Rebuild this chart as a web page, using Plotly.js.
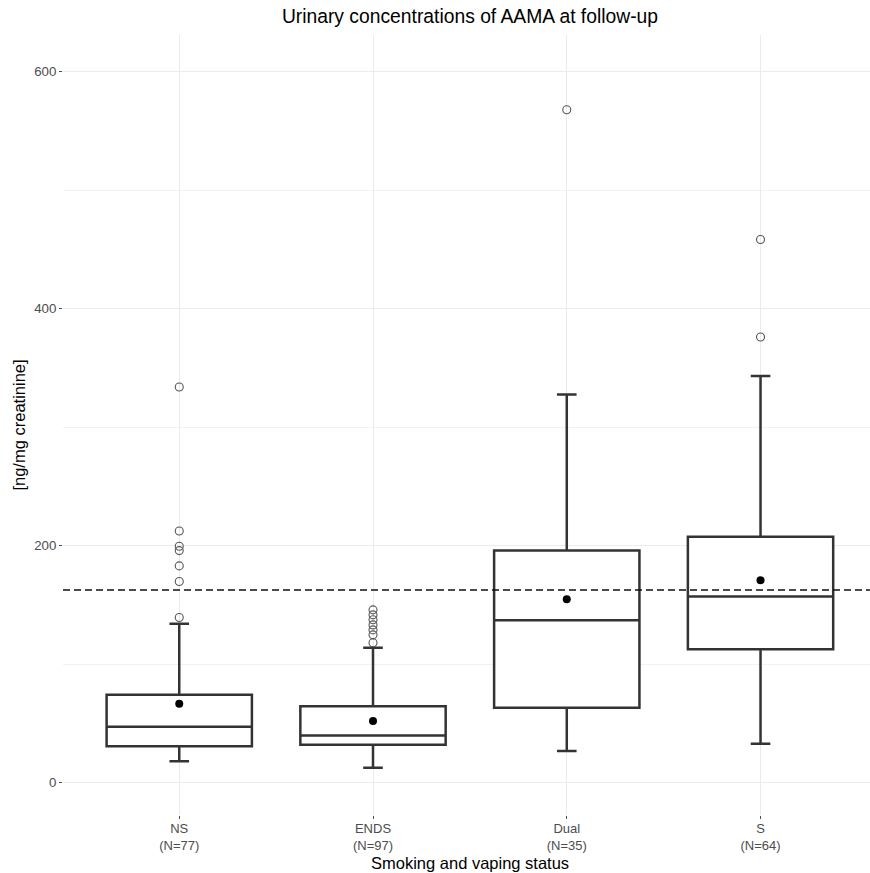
<!DOCTYPE html>
<html>
<head>
<meta charset="utf-8">
<script src="https://cdn.plot.ly/plotly-3.0.1.min.js"></script>
<style>html,body{margin:0;padding:0;background:#fff;}#chart{width:870px;height:873px;}</style>
</head>
<body>
<div id="chart"></div>
<script>
// ---- data ----
const categories = ['NS', 'ENDS', 'Dual', 'S'];
const nCounts = [77, 97, 35, 64];
const q1 = [30.6, 31.8, 63.1, 112.5];
const medians = [47.0, 39.6, 136.9, 156.9];
const q3 = [74.0, 64.4, 195.7, 207.5];
const lowerFence = [18.0, 12.4, 26.6, 32.7];
const upperFence = [133.9, 113.8, 327.5, 343.0];
const means = [66.4, 52.0, 154.6, 170.7];
const outliersNS = [333.8, 212.2, 199.4, 195.7, 182.8, 169.6, 139.2];
const outliersENDS = [145.7, 141.5, 137.3, 133.0, 128.8, 124.6, 118.0];
const outliersDual = [567.7];
const outliersS = [458.2, 375.9];
const referenceLine = 162.5;
const yTickVals = [0, 200, 400, 600];

const tickLabels = categories.map((c, i) => c + '<br>(N=' + nCounts[i] + ')');
const outlierGroups = [outliersNS, outliersENDS, outliersDual, outliersS];
const outX = [], outY = [];
outlierGroups.forEach((g, i) => g.forEach(v => { outX.push(tickLabels[i]); outY.push(v); }));

const dark = '#333333';
const font = 'Liberation Sans, Arial, sans-serif';

const traces = [
  {
    type: 'box',
    x: tickLabels,
    q1: q1, median: medians, q3: q3,
    lowerfence: lowerFence, upperfence: upperFence,
    boxpoints: false,
    width: 0.75,
    whiskerwidth: 0.135,
    fillcolor: '#ffffff',
    line: {color: dark, width: 2.5},
    hoverinfo: 'skip',
    showlegend: false
  },
  {
    type: 'scatter', mode: 'markers',
    x: outX, y: outY,
    marker: {symbol: 'circle-open', size: 8, color: '#555555', line: {width: 1.1}},
    showlegend: false, cliponaxis: false
  },
  {
    type: 'scatter', mode: 'markers',
    x: tickLabels, y: means,
    marker: {symbol: 'circle', size: 8, color: '#000000'},
    showlegend: false
  }
];

const layout = {
  width: 870, height: 873,
  margin: {l: 63, r: 0, t: 35, b: 58},
  paper_bgcolor: '#ffffff', plot_bgcolor: '#ffffff',
  font: {family: font, color: '#4d4d4d'},
  showlegend: false,
  title: {
    text: 'Urinary concentrations of AAMA at follow-up',
    font: {family: font, size: 19.3, color: '#000000'},
    xref: 'paper', x: 0.5043, xanchor: 'center',
    yref: 'container', y: 1 - 16 / 873, yanchor: 'middle'
  },
  xaxis: {
    type: 'category',
    categoryarray: tickLabels, categoryorder: 'array',
    range: [-0.6, 3.565],
    showgrid: true, gridcolor: '#ebebeb', gridwidth: 1,
    zeroline: false, showline: false,
    ticks: 'outside', ticklen: 3, tickcolor: '#4d4d4d', tickwidth: 1,
    ticklabelstandoff: -2,
    tickfont: {family: font, size: 13, color: '#4d4d4d'}
  },
  yaxis: {
    range: [-27.4, 630.8],
    tickvals: yTickVals,
    showgrid: true, gridcolor: '#ebebeb', gridwidth: 1,
    minor: {dtick: 100, tick0: 0, showgrid: true, gridcolor: '#f2f2f2', gridwidth: 1, ticks: ''},
    zeroline: false, showline: false,
    ticks: 'outside', ticklen: 3, tickcolor: '#4d4d4d', tickwidth: 1,
    tickfont: {family: font, size: 13.3, color: '#4d4d4d'},
    title: {text: '[ng/mg creatinine]', font: {family: font, size: 16.5, color: '#000000'}, standoff: 4}
  },
  annotations: [{
    text: 'Smoking and vaping status',
    xref: 'paper', x: 0.5043, xanchor: 'center',
    yref: 'paper', y: -48 / 780, yanchor: 'middle',
    showarrow: false,
    font: {family: font, size: 16.5, color: '#000000'}
  }],
  shapes: [{
    type: 'line', xref: 'paper', x0: 0, x1: 1, yref: 'y', y0: referenceLine, y1: referenceLine,
    line: {color: '#111111', width: 1.6, dash: '7px,4px'}, layer: 'above'
  }]
};

Plotly.newPlot('chart', traces, layout, {staticPlot: true, displayModeBar: false});
</script>
</body>
</html>
